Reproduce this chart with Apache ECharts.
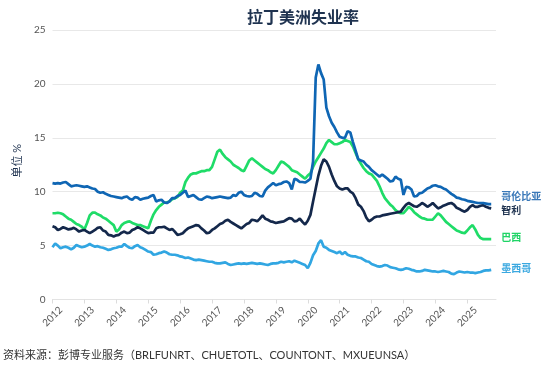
<!DOCTYPE html>
<html>
<head>
<meta charset="utf-8">
<script src="https://cdn.jsdelivr.net/npm/echarts@6/dist/echarts.min.js"></script>
<style>html,body{margin:0;padding:0;background:#fff;}#c{width:550px;height:370px;}</style>
</head>
<body>
<div id="c"></div>
<script>
// Monthly data, first point = Jan 2012
const startYear = 2012;
const titleText = '拉丁美洲失业率';
const yAxisName = '单位 %';
const sourceText = '资料来源：彭博专业服务（BRLFUNRT、CHUETOTL、COUNTONT、MXUEUNSA）';
const seriesNames = ['哥伦比亚', '智利', '巴西', '墨西哥'];

const colombia = [
10.8,10.75,10.8,10.75,10.85,10.9,10.7,10.5,10.55,10.6,10.55,10.5,
10.45,10.5,10.4,10.3,10.25,10.0,9.9,9.95,9.8,9.7,9.6,9.55,
9.5,9.45,9.4,9.5,9.55,9.35,9.25,9.5,9.45,9.25,9.35,9.4,
9.45,9.6,9.7,9.1,9.2,9.25,9.0,8.95,9.1,9.4,9.4,9.6,
9.7,9.9,10.1,9.5,9.6,9.7,9.5,9.3,9.25,9.4,9.55,9.5,
9.4,9.45,9.5,9.55,9.5,9.45,9.4,9.45,9.7,9.6,9.9,10.0,
9.7,9.6,9.55,9.6,9.9,9.8,9.6,9.55,10.1,10.4,10.6,10.8,
10.6,10.7,10.75,10.9,10.95,10.8,10.2,11.2,11.1,10.9,10.9,10.85,
11.0,11.2,12.8,20.6,21.8,21.0,20.4,17.8,17.0,16.4,16.0,15.5,
15.1,15.0,15.0,15.6,15.5,14.6,13.8,13.0,12.9,12.8,12.5,12.3,
12.0,11.8,11.6,11.4,11.6,11.4,11.2,10.95,11.0,11.4,11.2,11.1,
9.7,10.45,10.4,10.2,9.55,9.6,9.85,9.9,10.1,10.3,10.4,10.55,
10.6,10.5,10.45,10.3,10.2,10.0,9.8,9.65,9.45,9.4,9.3,9.25,
9.15,9.1,9.05,9.0,8.95,8.95,8.95,8.9,8.85,8.85
];
const chile = [
6.8,6.7,6.45,6.55,6.7,6.6,6.5,6.55,6.65,6.5,6.3,6.4,
6.45,6.3,6.15,6.3,6.45,6.65,6.7,6.4,6.3,6.0,5.95,5.85,
5.95,6.0,6.2,6.3,6.15,6.2,6.45,6.55,6.7,6.6,6.45,6.3,
6.15,6.2,6.2,6.6,6.7,6.7,6.75,6.6,6.45,6.55,6.3,6.0,
6.05,6.15,6.4,6.6,6.7,6.8,6.9,6.85,6.6,6.4,6.15,6.2,
6.45,6.6,6.8,7.0,7.1,7.3,7.4,7.2,7.05,6.9,6.75,6.6,
6.8,7.0,7.1,7.4,7.35,7.25,7.5,7.8,7.5,7.4,7.25,7.2,
7.1,7.15,7.2,7.25,7.4,7.55,7.5,7.25,7.3,7.5,7.2,6.95,
7.3,7.85,9.1,10.3,11.5,12.4,13.0,12.8,12.3,11.6,11.0,10.5,
10.3,10.2,10.3,10.3,10.0,9.85,9.4,8.8,8.6,8.2,7.6,7.25,
7.4,7.6,7.7,7.7,7.8,7.85,7.9,7.95,8.0,8.05,8.1,8.15,
8.5,8.8,8.95,8.8,8.65,8.6,8.75,8.95,8.8,8.6,8.75,8.95,
8.7,8.45,8.55,8.7,8.8,8.9,8.95,8.8,8.5,8.4,8.25,8.15,
8.3,8.6,8.75,8.6,8.6,8.7,8.75,8.6,8.5,8.45
];
const brazil = [
8.0,8.0,8.05,8.0,7.9,7.7,7.5,7.4,7.2,7.0,6.9,6.75,
6.5,7.1,7.8,8.05,8.05,7.9,7.8,7.6,7.5,7.3,7.1,6.9,
6.3,6.5,6.9,7.1,7.2,7.25,7.1,7.0,6.9,6.9,6.8,6.7,
6.6,7.3,7.9,8.3,8.6,8.8,9.0,9.0,9.1,9.3,9.4,9.5,
9.9,10.1,10.9,11.3,11.6,11.7,11.7,11.8,11.9,11.9,12.0,12.0,
12.3,13.0,13.7,13.9,13.5,13.2,13.0,12.8,12.5,12.35,12.2,12.0,
11.9,12.4,12.9,13.1,12.9,12.7,12.5,12.3,12.1,12.0,11.8,11.7,
12.0,12.4,12.8,12.7,12.5,12.3,12.0,11.9,11.8,11.6,11.4,11.2,
11.5,11.7,12.3,12.8,13.2,13.6,14.0,14.5,14.8,14.6,14.4,14.4,
14.5,14.6,14.8,14.7,14.6,14.2,13.6,13.0,12.6,12.2,11.9,11.7,
11.6,11.3,11.0,10.5,9.9,9.4,9.1,8.8,8.6,8.3,8.1,8.0,
8.0,8.3,8.6,8.4,8.1,7.9,7.7,7.55,7.5,7.4,7.4,7.4,
7.7,8.0,7.8,7.5,7.2,7.0,6.8,6.6,6.4,6.3,6.2,6.15,
6.4,6.7,6.9,6.5,6.0,5.7,5.6,5.6,5.6,5.6
];
const mexico = [
4.85,5.2,5.0,4.75,4.85,4.9,4.8,4.65,4.8,5.05,4.95,4.85,
4.9,5.0,5.15,5.0,4.9,4.95,4.85,4.8,4.7,4.6,4.65,4.75,
4.8,4.9,4.9,5.15,4.95,4.8,4.75,4.95,5.05,4.85,4.75,4.6,
4.45,4.4,4.15,4.2,4.3,4.35,4.45,4.35,4.2,4.15,4.15,4.1,
4.0,3.95,3.85,3.9,3.8,3.7,3.65,3.7,3.65,3.6,3.55,3.5,
3.5,3.4,3.35,3.35,3.4,3.45,3.3,3.2,3.25,3.3,3.35,3.3,
3.35,3.3,3.35,3.4,3.35,3.3,3.35,3.3,3.25,3.2,3.3,3.35,
3.35,3.4,3.5,3.45,3.5,3.55,3.45,3.6,3.5,3.4,3.3,3.2,
2.9,3.4,4.1,4.5,5.2,5.5,4.9,4.8,4.6,4.5,4.4,4.3,
4.45,4.2,4.4,4.15,4.05,4.0,4.0,3.9,3.85,3.7,3.55,3.5,
3.3,3.2,3.1,3.05,3.1,3.2,3.15,3.0,2.95,2.9,2.8,2.75,
2.8,2.9,2.85,2.75,2.7,2.6,2.6,2.65,2.75,2.7,2.65,2.6,
2.6,2.55,2.6,2.65,2.6,2.55,2.4,2.35,2.5,2.6,2.55,2.5,
2.55,2.5,2.5,2.45,2.5,2.55,2.65,2.7,2.7,2.75
];

const toPairs = arr => arr.map((v, i) => [startYear + i / 12, v]);
const FONT = 'Lato, "Noto Sans CJK SC", sans-serif';

const styles = [
  { data: colombia, color: '#0f66b4', labelColor: '#3a78b8', offset: [0, -8] },
  { data: chile, color: '#14284b', labelColor: '#1f3350', offset: [0, 2] },
  { data: brazil, color: '#1fdc68', labelColor: '#1fd466', offset: [0, -2] },
  { data: mexico, color: '#31a6e2', labelColor: '#3aa8e0', offset: [0, -2] }
];
const drawOrder = [3, 2, 1, 0];

const chart = echarts.init(document.getElementById('c'), null, { renderer: 'canvas' });
chart.setOption({
  animation: false,
  textStyle: { fontFamily: FONT },
  title: {
    text: titleText, left: 242, top: 4,
    textStyle: { fontSize: 16, fontWeight: 'bold', color: '#1f3350', fontFamily: '"Noto Sans CJK SC", sans-serif' }
  },
  grid: { left: 52.5, right: 54, top: 30, bottom: 70.5 },
  xAxis: {
    type: 'value', min: 2012, max: 2025.9, interval: 1,
    axisLine: { show: true, lineStyle: { color: '#e3e3e3' } },
    axisTick: { show: true, length: 4, lineStyle: { color: '#dcdcdc' } },
    splitLine: { show: false },
    axisLabel: {
      rotate: 45, align: 'center', verticalAlign: 'middle', color: '#555', fontSize: 10, margin: 17,
      showMaxLabel: false, formatter: v => String(Math.round(v)), fontFamily: FONT
    }
  },
  yAxis: {
    type: 'value', min: 0, max: 25, interval: 5,
    name: yAxisName, nameLocation: 'middle', nameGap: 25, nameRotate: 90,
    nameTextStyle: { color: '#1f3350', fontSize: 11, fontFamily: FONT, padding: [0, 0, 0, 8] },
    axisLine: { show: false }, axisTick: { show: false },
    splitLine: { lineStyle: { color: '#e8e8e8' } },
    axisLabel: { color: '#555', fontSize: 10, margin: 7, fontFamily: FONT }
  },
  graphic: [{
    type: 'text', left: 3, top: 350,
    style: { text: sourceText, fontSize: 11, fill: '#333', fontFamily: FONT }
  }],
  series: drawOrder.map(k => ({
    name: seriesNames[k],
    type: 'line',
    data: toPairs(styles[k].data),
    showSymbol: false,
    lineStyle: { width: 2.7, color: styles[k].color },
    itemStyle: { color: styles[k].color },
    z: 2 + (3 - k),
    endLabel: {
      show: true, formatter: '{a}', distance: 10, offset: styles[k].offset,
      color: styles[k].labelColor, fontSize: 10, fontWeight: 'bold', fontFamily: '"Noto Sans CJK SC", sans-serif'
    }
  }))
});
</script>
</body>
</html>
